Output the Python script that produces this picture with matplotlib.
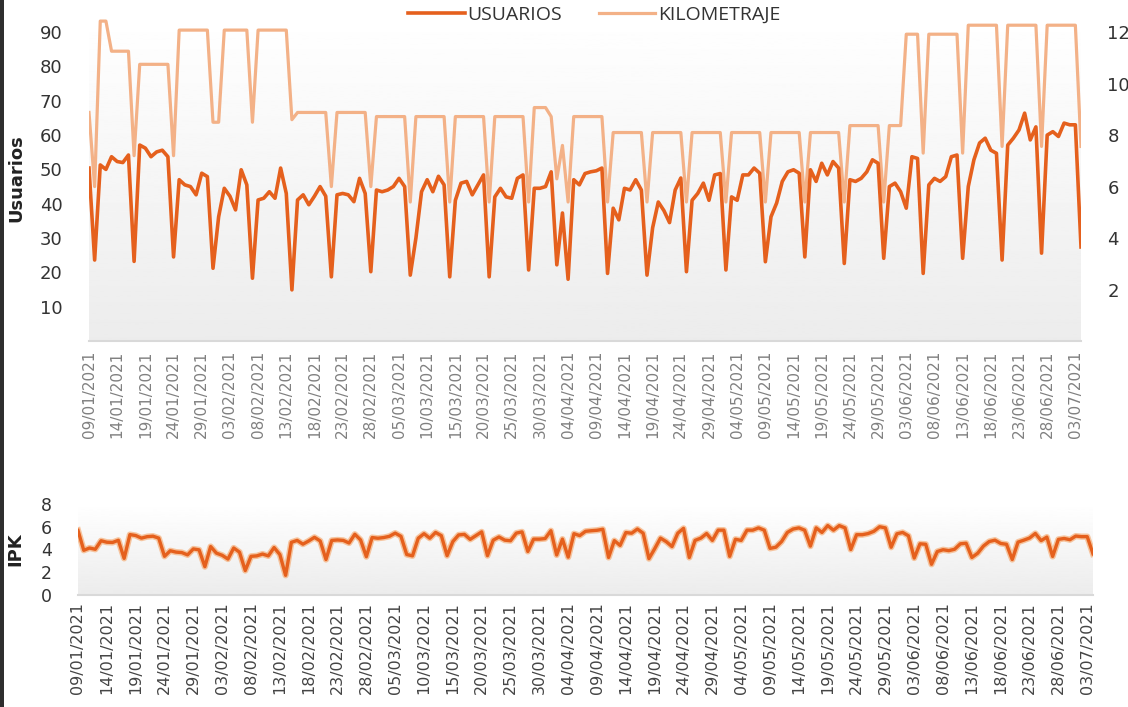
import numpy as np
import matplotlib.pyplot as plt
from matplotlib.patches import Rectangle
from datetime import date, timedelta

# daily series starting on 09/01/2021
inicio = date(2021, 1, 9)

usuarios = [
    50.4, 23.6, 51.3, 50.0, 53.7, 52.3, 52.0, 54.2, 23.2, 57.1,
    56.2, 53.7, 55.1, 55.6, 53.7, 24.5, 47.0, 45.5, 45.0, 42.6,
    48.9, 47.9, 21.2, 36.2, 44.5, 42.2, 38.2, 49.9, 45.5, 18.3,
    41.1, 41.6, 43.5, 41.6, 50.4, 43.0, 14.9, 41.1, 42.6, 39.7,
    42.2, 45.0, 42.2, 18.7, 42.6, 43.0, 42.6, 40.6, 47.4, 43.0,
    20.2, 44.0, 43.5, 44.0, 45.0, 47.4, 45.0, 19.2, 30.0, 43.5,
    47.0, 43.5, 48.0, 45.5, 18.7, 41.0, 46.0, 46.5, 42.6, 45.5,
    48.4, 18.7, 42.0, 44.5, 42.0, 41.6, 47.4, 48.4, 20.7, 44.5,
    44.5, 45.0, 49.3, 22.2, 37.3, 18.0, 47.0, 45.5, 48.8, 49.3,
    49.6, 50.4, 19.7, 38.7, 35.3, 44.5, 44.0, 47.0, 44.0, 19.2,
    33.0, 40.5, 38.0, 34.5, 44.0, 47.5, 20.2, 41.0, 43.0, 46.0,
    41.0, 48.4, 48.8, 20.7, 42.0, 41.0, 48.4, 48.4, 50.4, 48.9,
    23.1, 36.2, 40.2, 46.5, 49.3, 49.9, 48.9, 24.5, 49.9, 46.5,
    51.8, 48.4, 52.3, 50.4, 22.6, 47.0, 46.5, 47.4, 49.3, 52.8,
    51.8, 24.1, 45.0, 46.0, 43.5, 38.7, 53.7, 53.2, 19.7, 45.5,
    47.4, 46.5, 47.9, 53.7, 54.2, 24.1, 45.0, 52.8, 57.7, 59.1,
    55.6, 54.7, 23.6, 57.1, 59.1, 61.5, 66.4, 58.6, 62.4, 25.6,
    60.0, 61.0, 59.6, 63.5, 63.0, 63.0, 27.4,
]

kilometraje = [
    8.88, 6.0, 12.43, 12.43, 11.26, 11.26, 11.26, 11.26, 7.2, 10.75,
    10.75, 10.75, 10.75, 10.75, 10.75, 7.2, 12.08, 12.08, 12.08, 12.08,
    12.08, 12.08, 8.5, 8.5, 12.08, 12.08, 12.08, 12.08, 12.08, 8.5,
    12.08, 12.08, 12.08, 12.08, 12.08, 12.08, 8.6, 8.88, 8.88, 8.88,
    8.88, 8.88, 8.88, 6.0, 8.88, 8.88, 8.88, 8.88, 8.88, 8.88,
    6.0, 8.72, 8.72, 8.72, 8.72, 8.72, 8.72, 5.4, 8.72, 8.72,
    8.72, 8.72, 8.72, 8.72, 5.4, 8.72, 8.72, 8.72, 8.72, 8.72,
    8.72, 5.4, 8.72, 8.72, 8.72, 8.72, 8.72, 8.72, 5.4, 9.07,
    9.07, 9.07, 8.72, 6.3, 7.6, 5.4, 8.72, 8.72, 8.72, 8.72,
    8.72, 8.72, 5.4, 8.1, 8.1, 8.1, 8.1, 8.1, 8.1, 5.4,
    8.1, 8.1, 8.1, 8.1, 8.1, 8.1, 5.4, 8.1, 8.1, 8.1,
    8.1, 8.1, 8.1, 5.4, 8.1, 8.1, 8.1, 8.1, 8.1, 8.1,
    5.4, 8.1, 8.1, 8.1, 8.1, 8.1, 8.1, 5.4, 8.1, 8.1,
    8.1, 8.1, 8.1, 8.1, 5.4, 8.37, 8.37, 8.37, 8.37, 8.37,
    8.37, 5.4, 8.37, 8.37, 8.37, 11.92, 11.92, 11.92, 7.3, 11.92,
    11.92, 11.92, 11.92, 11.92, 11.92, 7.3, 12.27, 12.27, 12.27, 12.27,
    12.27, 12.27, 7.56, 12.27, 12.27, 12.27, 12.27, 12.27, 12.27, 7.56,
    12.27, 12.27, 12.27, 12.27, 12.27, 12.27, 7.56,
]

ipk = [
    5.68, 3.93, 4.13, 4.02, 4.77, 4.64, 4.62, 4.81, 3.22, 5.31,
    5.23, 5.00, 5.13, 5.17, 5.00, 3.40, 3.89, 3.77, 3.73, 3.53,
    4.05, 3.97, 2.49, 4.26, 3.68, 3.49, 3.16, 4.13, 3.77, 2.15,
    3.40, 3.44, 3.60, 3.44, 4.17, 3.56, 1.73, 4.63, 4.80, 4.47,
    4.75, 5.07, 4.75, 3.12, 4.80, 4.84, 4.80, 4.57, 5.34, 4.84,
    3.37, 5.05, 4.99, 5.05, 5.16, 5.44, 5.16, 3.56, 3.44, 4.99,
    5.39, 4.99, 5.50, 5.22, 3.46, 4.70, 5.28, 5.33, 4.89, 5.22,
    5.55, 3.46, 4.82, 5.10, 4.82, 4.77, 5.44, 5.55, 3.83, 4.91,
    4.91, 4.96, 5.65, 3.52, 4.91, 3.33, 5.39, 5.22, 5.60, 5.65,
    5.69, 5.78, 3.30, 4.78, 4.36, 5.49, 5.43, 5.80, 5.43, 3.20,
    4.07, 5.00, 4.69, 4.26, 5.43, 5.86, 3.30, 4.80, 5.00, 5.40,
    4.80, 5.70, 5.70, 3.40, 4.90, 4.80, 5.70, 5.70, 5.90, 5.70,
    4.10, 4.20, 4.70, 5.50, 5.80, 5.90, 5.70, 4.30, 5.90, 5.50,
    6.10, 5.70, 6.10, 5.90, 4.00, 5.30, 5.30, 5.40, 5.60, 6.00,
    5.90, 4.20, 5.38, 5.50, 5.20, 3.25, 4.50, 4.46, 2.70, 3.82,
    3.98, 3.90, 4.02, 4.50, 4.55, 3.30, 3.67, 4.30, 4.70, 4.82,
    4.53, 4.46, 3.12, 4.65, 4.82, 5.01, 5.41, 4.78, 5.09, 3.39,
    4.89, 4.97, 4.86, 5.18, 5.13, 5.13, 3.62,
]

fechas = [inicio + timedelta(days=i) for i in range(len(usuarios))]
x = np.arange(len(usuarios))
ticks = x[::5]
etiquetas = [fechas[i].strftime('%d/%m/%Y') for i in ticks]

C_USU = '#E5601D'
C_KM = '#F3B187'
plt.rcParams['font.family'] = 'DejaVu Sans'

W, H = 1128, 707
fig = plt.figure(figsize=(W / 100, H / 100), dpi=100)
fig.patch.set_facecolor('white')


def px_box(left, right, top, bottom):
    return [left / W, 1 - bottom / H, (right - left) / W, (bottom - top) / H]


def fondo(box):
    # white-to-grey vertical gradient behind the plot area
    bg = fig.add_axes(box, zorder=0)
    grad = np.linspace(0.925, 1.0, 256).reshape(-1, 1)
    bg.imshow(grad, cmap='gray', vmin=0, vmax=1, aspect='auto',
              extent=(0, 1, 0, 1), origin='lower')
    bg.axis('off')
    return bg


# ---- top panel: usuarios / kilometraje
box_top = px_box(89, 1081, 15, 341)
fondo(box_top)
ax_km = fig.add_axes(box_top, zorder=1)
ax = ax_km.twinx()
ax.set_zorder(2)
ax_km.patch.set_visible(False)
ax.patch.set_visible(False)

l_km, = ax_km.plot(x, kilometraje, color=C_KM, lw=2.3, solid_joinstyle='round')
l_usu, = ax.plot(x, usuarios, color=C_USU, lw=2.6, solid_joinstyle='round')

ax.set_xlim(0, len(x) - 1)
ax_km.set_xlim(0, len(x) - 1)
ax.set_ylim(0, 95)
ax_km.set_ylim(0, 95 / 7.5)

# usuarios on the left, kilometraje on the right
ax.yaxis.tick_left()
ax.yaxis.set_label_position('left')
ax_km.yaxis.tick_right()
ax.set_yticks(range(10, 100, 10))
ax_km.set_yticks(range(2, 14, 2))
ax.tick_params(axis='y', length=0, pad=19, labelsize=13, labelcolor='#333333')
ax_km.tick_params(axis='y', length=0, pad=19, labelsize=13, labelcolor='#333333')
ax.set_ylabel('Usuarios', fontsize=13, fontweight='bold', color='#222222')
ax.yaxis.set_label_coords(-0.064, 0.5)

ax_km.set_xticks(ticks)
ax_km.set_xticklabels(etiquetas, rotation=90, fontsize=11, color='#808080')
ax_km.tick_params(axis='x', length=0, pad=7)
ax.tick_params(axis='x', bottom=False, labelbottom=False)

for a in (ax, ax_km):
    for s in a.spines.values():
        s.set_visible(False)
ax_km.spines['bottom'].set_visible(True)
ax_km.spines['bottom'].set_color('#d9d9d9')
ax_km.spines['bottom'].set_linewidth(1.5)

fig.legend([l_usu, l_km], ['USUARIOS', 'KILOMETRAJE'], loc='center',
           bbox_to_anchor=(0.527, 0.979), ncol=2, frameon=False,
           prop={'family': 'Open Sans', 'size': 14}, handlelength=2.9,
           handletextpad=0.15, columnspacing=1.9, labelcolor='#333333')

# ---- bottom panel: IPK
box_bot = px_box(78, 1093, 504, 595)
fondo(box_bot)
ax2 = fig.add_axes(box_bot, zorder=1)
ax2.patch.set_visible(False)
ax2.plot(x, ipk, color='#F59A55', lw=4.5, alpha=0.55, solid_joinstyle='round')
ax2.plot(x, ipk, color=C_USU, lw=2.4, solid_joinstyle='round')
ax2.set_xlim(0, len(x) - 1)
ax2.set_ylim(0, 8)
ax2.set_yticks(range(0, 10, 2))
ax2.tick_params(axis='y', length=0, pad=19, labelsize=12.5, labelcolor='#333333')
ax2.set_ylabel('IPK', fontsize=13, fontweight='bold', color='#222222')
ax2.yaxis.set_label_coords(-0.053, 0.5)
ax2.set_xticks(ticks)
ax2.set_xticklabels(etiquetas, rotation=90, fontsize=11.5, color='#444444')
ax2.tick_params(axis='x', length=0, pad=5)
for s in ax2.spines.values():
    s.set_visible(False)
ax2.spines['bottom'].set_visible(True)
ax2.spines['bottom'].set_color('#d9d9d9')
ax2.spines['bottom'].set_linewidth(1.5)

# dark strip along the left edge
fig.patches.append(Rectangle((0, 0), 4 / W, 1, transform=fig.transFigure,
                             facecolor='#2e2e2e', edgecolor='none', zorder=10))

fig.savefig('out.png', dpi=100)
